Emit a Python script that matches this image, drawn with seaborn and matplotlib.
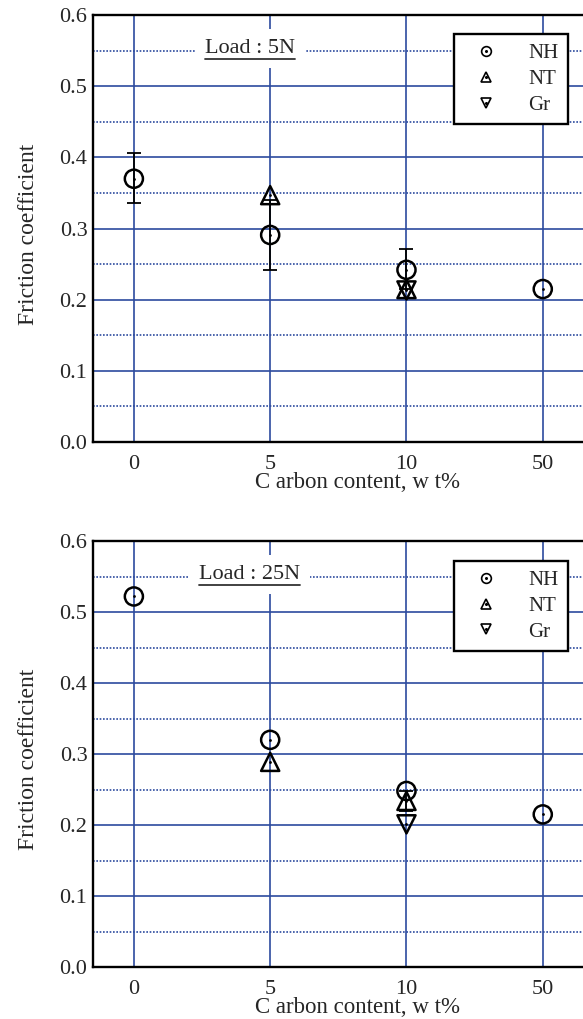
import matplotlib
matplotlib.use("Agg")
import matplotlib.pyplot as plt
from matplotlib.lines import Line2D
from matplotlib.legend_handler import HandlerTuple
from matplotlib.ticker import MultipleLocator, FormatStrFormatter
import seaborn as sns
import pandas as pd

# carbon content categories (x axis)
contents = ["0", "5", "10", "50"]
materials = ["NH", "NT", "Gr"]

# Load 5N
nh_5n = [0.370, 0.291, 0.242, 0.215]
nh_5n_lo = [0.336, 0.242, 0.215, 0.215]
nh_5n_hi = [0.406, 0.340, 0.271, 0.215]
nt_5n_x = ["5", "10"]
nt_5n = [0.347, 0.215]
gr_5n_x = ["10"]
gr_5n = [0.213]

# Load 25N
nh_25n = [0.522, 0.320, 0.248, 0.215]
nt_25n_x = ["5", "10"]
nt_25n = [0.289, 0.234]
nt_25n_lo = [0.289, 0.220]
nt_25n_hi = [0.289, 0.248]
gr_25n_x = ["10"]
gr_25n = [0.201]

BLUE = "#2c4a9e"


def build(load, nh, nh_lo, nh_hi, nt_x, nt, nt_lo, nt_hi, gr_x, gr):
    rows = []
    for c, v, lo, hi in zip(contents, nh, nh_lo, nh_hi):
        rows.append((load, "NH", c, v, lo, hi))
    for c, v, lo, hi in zip(nt_x, nt, nt_lo, nt_hi):
        rows.append((load, "NT", c, v, lo, hi))
    for c, v in zip(gr_x, gr):
        rows.append((load, "Gr", c, v, v, v))
    df = pd.DataFrame(rows, columns=["load", "material", "content", "mu", "lo", "hi"])
    df["pos"] = df["content"].map({c: i for i, c in enumerate(contents)})
    return df


df = pd.concat([
    build("5N", nh_5n, nh_5n_lo, nh_5n_hi, nt_5n_x, nt_5n, nt_5n, nt_5n, gr_5n_x, gr_5n),
    build("25N", nh_25n, nh_25n, nh_25n, nt_25n_x, nt_25n, nt_25n_lo, nt_25n_hi, gr_25n_x, gr_25n),
], ignore_index=True)

sns.set_style("white")
plt.rcParams["font.family"] = ["Liberation Serif", "DejaVu Serif"]

marker_map = {"NH": "o", "NT": "^", "Gr": "v"}

fig = plt.figure(figsize=(5.83, 10.19), dpi=100)
ax_top = fig.add_axes([0.1595, 0.5662, 0.865, 0.419])
ax_bot = fig.add_axes([0.1595, 0.0510, 0.865, 0.418])

notes = []
for ax, load, leg_top in [(ax_top, "5N", 0.955), (ax_bot, "25N", 0.953)]:
    d = df[df["load"] == load]
    ax.set_axisbelow(True)

    # error bars
    err = d[d["hi"] > d["lo"]]
    ax.errorbar(err["pos"].to_numpy(), err["mu"].to_numpy(),
                yerr=[(err["mu"] - err["lo"]).to_numpy(), (err["hi"] - err["mu"]).to_numpy()],
                fmt="none", ecolor="black", elinewidth=1.3, capsize=5, capthick=1.3, zorder=3)

    sns.scatterplot(data=d, x="pos", y="mu", style="material", markers=marker_map,
                    style_order=materials, s=170, facecolor="none", edgecolor="black",
                    linewidth=1.8, legend=False, ax=ax, zorder=4)
    sns.scatterplot(data=d, x="pos", y="mu", color="black", s=4, linewidth=0,
                    legend=False, ax=ax, zorder=5)

    ax.set_xlim(-0.3, 3.4)
    ax.set_ylim(0, 0.6)
    ax.set_xticks(range(len(contents)))
    ax.set_xticklabels(contents)
    ax.yaxis.set_major_locator(MultipleLocator(0.1))
    ax.yaxis.set_minor_locator(MultipleLocator(0.05))
    ax.yaxis.set_major_formatter(FormatStrFormatter("%.1f"))
    ax.tick_params(axis="both", which="both", length=0, labelsize=16)
    ax.tick_params(axis="x", pad=9)
    ax.tick_params(axis="y", pad=4)

    ax.grid(True, axis="y", which="major", color=BLUE, lw=1.2)
    ax.grid(True, axis="y", which="minor", color=BLUE, lw=1.2, ls=(0, (1, 1)))
    ax.grid(True, axis="x", which="major", color=BLUE, lw=1.2)

    for sp in ax.spines.values():
        sp.set_color("black")
        sp.set_linewidth(1.7)

    ax.set_xlabel("C arbon content, w t%", fontsize=16.5)
    ax.set_ylabel("Friction coefficient", fontsize=17)
    ax.xaxis.set_label_coords(0.524, -0.071)
    ax.yaxis.set_label_coords(-0.108, 0.487)

    t = ax.text(0.85, 0.553, "Load : %s" % load, fontsize=16,
                ha="center", va="center", zorder=6,
                bbox=dict(boxstyle="square,pad=0.45", fc="white", ec="none"))
    notes.append(t)

    handles = [
        (Line2D([], [], ls="none", marker=marker_map[m], ms=7, mfc="none", mec="black", mew=1.2),
         Line2D([], [], ls="none", marker="o", ms=1.2, mfc="black", mec="black"))
        for m in materials
    ]
    leg = ax.legend(handles, materials, loc="upper left", bbox_to_anchor=(0.716, leg_top),
                    borderaxespad=0, fontsize=15, frameon=True, fancybox=False,
                    framealpha=1, edgecolor="black", handletextpad=0.9,
                    labelspacing=0.3, borderpad=0.45, handlelength=2.2,
                    handler_map={tuple: HandlerTuple(ndivide=1, pad=0)})
    leg.get_frame().set_linewidth(1.7)
    leg.set_zorder(7)

# underline the load notes
fig.canvas.draw()
for t in notes:
    bb = t.get_window_extent()
    fig.add_artist(Line2D([bb.x0, bb.x1], [bb.y0 - 1, bb.y0 - 1], transform=None,
                          color="#333333", lw=1.3, zorder=8))

fig.savefig("out.png", dpi=100)
